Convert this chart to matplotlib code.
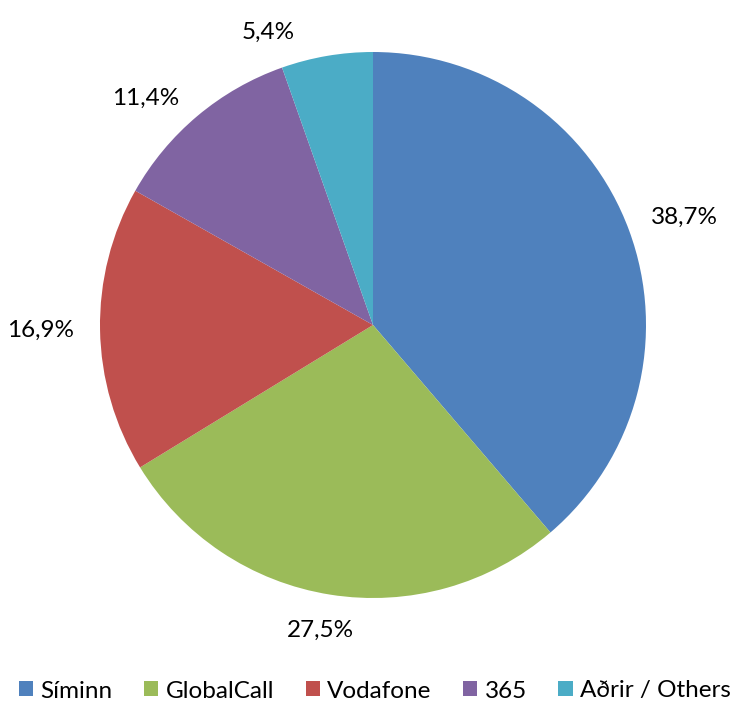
import matplotlib
matplotlib.use("Agg")
import matplotlib.pyplot as plt
from matplotlib.patches import Patch
import numpy as np

# market share data
labels = ["Síminn", "GlobalCall", "Vodafone", "365", "Aðrir / Others"]
shares = [38.7, 27.5, 16.9, 11.4, 5.4]
colors = ["#4F81BD", "#9BBB59", "#C0504D", "#8064A2", "#4BACC6"]
# small angle nudges (deg) so crowded labels don't collide, like Excel does
label_nudge = [0, 0, 0, 3, 9]

plt.rcParams['font.family'] = ['Lato', 'DejaVu Sans']
FS = 17.5

W, H = 734, 703
fig = plt.figure(figsize=(W / 100, H / 100), dpi=100)
cx, cy, r = 373, 325, 273
ax = fig.add_axes([(cx - r) / W, (H - cy - r) / H, 2 * r / W, 2 * r / H])

wedges, _ = ax.pie(shares, colors=colors, startangle=90, counterclock=False,
                   radius=1, wedgeprops={'linewidth': 0})
ax.set_xlim(-1, 1)
ax.set_ylim(-1, 1)
ax.set_aspect('equal')
ax.axis('off')

# percent labels: box edge sits a fixed gap outside the circle
renderer = fig.canvas.get_renderer()
gap = 26
for w, v, nd in zip(wedges, shares, label_nudge):
    ang = np.deg2rad((w.theta1 + w.theta2) / 2 + nd)
    t = ax.text(0, 0, ("%.1f%%" % v).replace('.', ','),
                ha='center', va='center', fontsize=FS, color='black')
    bb = t.get_window_extent(renderer)
    hw, hh = bb.width / 2, bb.height / 2
    px = (r + gap) * np.cos(ang) + hw * np.cos(ang)
    py = (r + gap) * np.sin(ang) + hh * np.sin(ang)
    t.set_position((px / r, py / r))

handles = [Patch(facecolor=c, edgecolor='none') for c in colors]
fig.legend(handles, labels, loc='center', bbox_to_anchor=(0.5 + 8 / W, 1 - 691 / H),
           ncol=5, frameon=False, fontsize=FS, handlelength=0.58, handleheight=0.58,
           handletextpad=0.3, columnspacing=1.3, borderpad=0, borderaxespad=0)

fig.savefig("out.png", dpi=100)
